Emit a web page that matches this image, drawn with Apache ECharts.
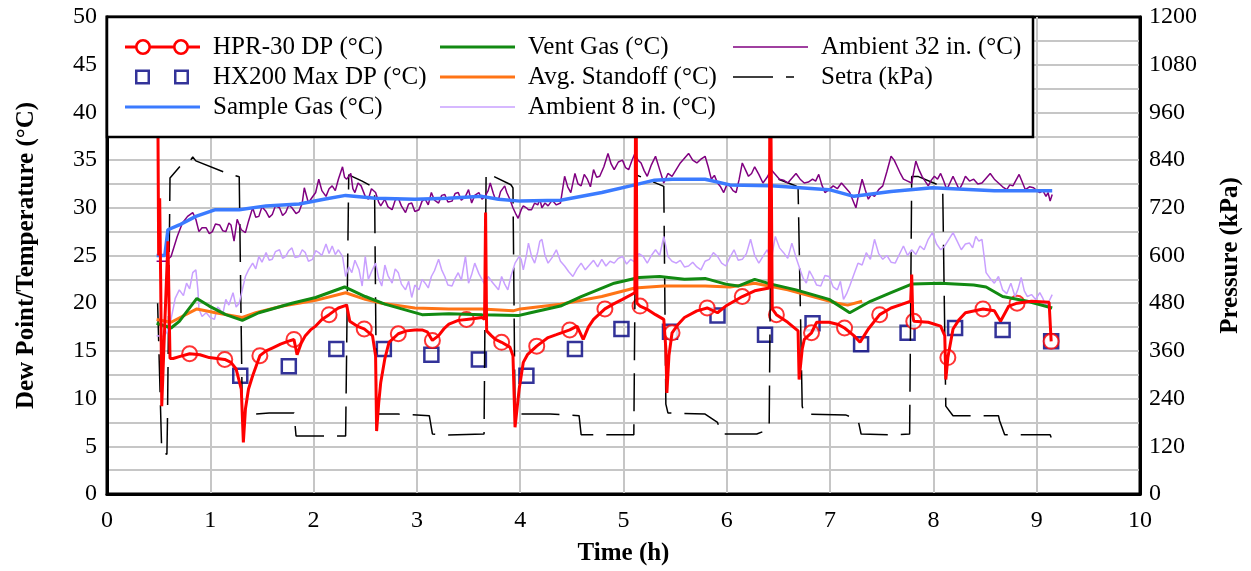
<!DOCTYPE html>
<html>
<head>
<meta charset="utf-8">
<script src="https://cdn.jsdelivr.net/npm/echarts@6.0.0/dist/echarts.min.js"></script>
<style>
  html, body { margin: 0; padding: 0; background: #fff; }
  #chart { width: 1251px; height: 571px; }
</style>
</head>
<body>
<div id="chart"></div>
<script>
// dew point / temperature vs time, with Setra pressure on the right axis

// [time h, °C]
const hprLine = [
  [0.49,45],[0.50,25],[0.51,31],[0.52,22],[0.53,9.2],[0.56,18],[0.59,26.5],[0.61,14.2],[0.64,14.2],[0.70,14.4],
  [0.80,14.7],[0.90,14.6],[0.99,14.3],[1.14,14.1],[1.20,13.8],[1.25,13.1],[1.30,11.0],[1.32,5.4],[1.34,8.9],[1.37,11.0],
  [1.41,12.4],[1.48,14.5],[1.54,15.0],[1.60,15.3],[1.68,15.7],[1.75,16.0],[1.81,16.2],[1.84,14.6],[1.88,15.8],[1.92,16.6],
  [1.97,17.2],[2.02,17.6],[2.08,18.3],[2.15,18.8],[2.20,19.2],[2.24,19.5],[2.32,19.8],[2.35,18.1],[2.42,17.6],[2.49,17.3],
  [2.57,16.6],[2.60,14.5],[2.61,6.6],[2.63,9.5],[2.65,11.7],[2.69,14.2],[2.73,15.9],[2.82,16.8],[2.90,17.1],[2.98,17.2],
  [3.05,17.2],[3.10,17.0],[3.15,16.1],[3.21,16.6],[3.26,17.3],[3.31,17.8],[3.40,18.2],[3.48,18.3],[3.56,18.4],[3.63,18.5],
  [3.655,18.3],[3.665,29.5],[3.675,17.1],[3.72,16.6],[3.76,16.2],[3.82,15.9],[3.90,15.4],[3.93,14.5],[3.95,7.0],[3.97,9.0],
  [3.99,11.0],[4.03,13.8],[4.07,14.6],[4.16,15.5],[4.27,16.4],[4.35,16.7],[4.48,17.2],[4.55,17.6],[4.61,16.2],[4.66,17.5],
  [4.71,18.3],[4.82,19.4],[4.90,19.9],[4.99,20.4],[5.11,21.1],[5.12,50],[5.125,50],[5.13,20.0],[5.16,19.7],[5.24,19.3],
  [5.31,18.8],[5.39,18.3],[5.41,15.2],[5.42,10.6],[5.44,14.5],[5.47,16.9],[5.53,17.8],[5.59,18.5],[5.71,19.2],[5.81,19.5],
  [5.91,19.0],[5.99,19.7],[6.07,20.2],[6.15,20.7],[6.27,21.3],[6.41,21.6],[6.42,50],[6.43,50],[6.44,19.4],[6.48,18.8],
  [6.59,18.0],[6.69,17.1],[6.70,12.0],[6.73,15.2],[6.75,16.2],[6.82,16.9],[6.87,18.0],[6.99,18.0],[7.07,17.8],[7.14,17.4],
  [7.23,16.6],[7.29,15.9],[7.33,16.6],[7.37,17.3],[7.48,18.8],[7.59,19.5],[7.70,19.9],[7.78,20.2],[7.79,23.0],[7.80,18.7],
  [7.81,18.1],[7.95,18.0],[8.07,17.6],[8.11,16.6],[8.12,12.0],[8.14,14.3],[8.19,17.3],[8.25,18.3],[8.31,19.0],[8.48,19.4],
  [8.59,19.2],[8.65,18.1],[8.73,19.7],[8.81,20.0],[8.95,20.2],[9.12,20.1],[9.14,16.0]
];
const hprMarks = [
  [0.80,14.7],[1.14,14.1],[1.48,14.5],[1.81,16.2],[2.15,18.8],[2.49,17.3],[2.82,16.8],[3.15,16.1],[3.48,18.3],
  [3.82,15.9],[4.16,15.5],[4.48,17.2],[4.82,19.4],[5.16,19.7],[5.47,16.9],[5.81,19.5],[6.15,20.7],[6.48,18.8],
  [6.82,16.9],[7.14,17.4],[7.48,18.8],[7.81,18.1],[8.14,14.3],[8.48,19.4],[8.81,20.0],[9.14,16.0]
];
const hx200 = [
  [1.29,12.4],[1.76,13.4],[2.22,15.2],[2.68,15.2],[3.14,14.6],[3.60,14.1],[4.06,12.4],[4.53,15.2],[4.98,17.3],
  [5.45,17.0],[5.91,18.7],[6.37,16.7],[6.83,17.9],[7.30,15.7],[7.75,16.9],[8.21,17.4],[8.67,17.2],[9.14,16.0]
];
const sampleGas = [
  [0.48,25.0],[0.56,25.0],[0.59,27.7],[0.70,28.2],[0.86,29.1],[1.05,29.8],[1.28,29.8],[1.54,30.2],[1.86,30.4],[2.10,30.9],
  [2.31,31.3],[2.60,31.0],[2.98,30.9],[3.30,31.0],[3.63,31.2],[3.79,30.9],[4.00,30.7],[4.39,30.8],[4.79,31.6],[5.11,32.4],
  [5.30,32.9],[5.47,33.0],[5.79,33.0],[6.03,32.4],[6.43,32.3],[6.99,31.9],[7.23,31.2],[7.59,31.7],[7.99,32.1],[8.59,31.8],
  [9.15,31.8]
];
const ventGas = [
  [0.48,17.9],[0.62,17.4],[0.70,18.1],[0.87,20.5],[0.99,19.7],[1.15,18.8],[1.31,18.2],[1.47,19.0],[1.79,20.0],[2.02,20.6],
  [2.30,21.7],[2.50,20.7],[2.69,19.9],[3.05,18.8],[3.31,18.9],[3.63,18.8],[3.98,18.7],[4.10,19.0],[4.39,19.7],[4.59,20.7],
  [4.91,22.1],[5.15,22.7],[5.35,22.8],[5.59,22.5],[5.79,22.6],[5.99,22.0],[6.11,21.8],[6.27,22.5],[6.43,22.0],[6.67,21.4],
  [6.99,20.4],[7.19,19.0],[7.39,20.2],[7.59,21.1],[7.79,22.0],[8.07,22.1],[8.39,21.9],[8.51,21.7],[8.67,20.7],[8.91,20.2],
  [9.15,19.5]
];
const avgStandoff = [
  [0.48,18.3],[0.62,18.0],[0.87,19.4],[1.05,19.0],[1.31,18.5],[1.44,19.0],[1.70,19.7],[2.02,20.3],[2.31,21.1],[2.50,20.4],
  [2.66,20.0],[2.98,19.5],[3.31,19.4],[3.63,19.4],[3.93,19.2],[4.00,19.4],[4.39,19.9],[4.79,20.7],[5.11,21.6],[5.39,21.8],
  [5.79,21.8],[6.03,21.7],[6.27,22.1],[6.59,21.4],[6.83,20.7],[7.07,20.0],[7.17,19.8],[7.31,20.2]
];
const ambient8 = [
  [0.48,16.6],[0.55,16.5],[0.58,17.0],[0.62,18.3],[0.66,20.5],[0.70,21.4],[0.74,20.8],[0.77,22.1],[0.80,21.5],[0.83,23.2],
  [0.86,23.5],[0.88,21.4],[0.89,19.4],[0.92,18.6],[0.96,19.0],[1.00,18.5],[1.04,18.3],[1.07,19.6],[1.09,19.4],[1.12,18.8],
  [1.15,20.4],[1.18,19.8],[1.22,21.1],[1.25,19.6],[1.28,20.0],[1.31,21.4],[1.34,22.8],[1.37,23.5],[1.41,24.2],[1.44,23.6],
  [1.47,24.9],[1.50,24.3],[1.54,25.3],[1.57,24.5],[1.60,24.6],[1.63,25.4],[1.67,25.6],[1.70,24.7],[1.73,24.9],[1.76,25.5],
  [1.79,25.8],[1.82,24.8],[1.86,24.9],[1.89,25.6],[1.92,25.3],[1.95,24.4],[1.99,24.6],[2.02,25.5],[2.05,25.3],[2.08,25.0],
  [2.12,26.2],[2.15,25.2],[2.18,26.0],[2.21,25.1],[2.24,25.6],[2.28,24.9],[2.31,22.8],[2.34,23.8],[2.37,23.2],[2.40,24.5],
  [2.44,23.5],[2.47,21.8],[2.50,24.9],[2.53,22.5],[2.56,23.3],[2.60,24.2],[2.63,22.6],[2.66,21.8],[2.69,24.0],[2.72,22.9],
  [2.76,22.1],[2.79,23.6],[2.82,23.2],[2.85,22.0],[2.89,21.4],[2.92,22.3],[2.95,20.6],[2.98,21.9],[3.02,21.4],[3.05,22.5],
  [3.08,22.1],[3.11,21.6],[3.14,22.8],[3.17,23.4],[3.21,24.6],[3.24,23.5],[3.27,22.8],[3.30,21.9],[3.34,21.8],[3.37,22.6],
  [3.40,23.2],[3.43,22.4],[3.47,24.9],[3.50,22.1],[3.53,23.0],[3.56,24.2],[3.60,23.1],[3.63,22.5],[3.66,21.9],[3.69,22.8],
  [3.73,22.2],[3.76,21.8],[3.79,21.4],[3.82,22.8],[3.85,22.0],[3.88,21.4],[3.91,22.8],[3.95,24.2],[3.99,24.9],[4.01,24.6],
  [4.03,23.5],[4.06,25.0],[4.08,26.3],[4.11,24.9],[4.14,24.2],[4.17,25.4],[4.19,26.5],[4.21,26.7],[4.24,25.0],[4.27,24.2],
  [4.31,24.8],[4.35,25.6],[4.39,24.4],[4.43,23.9],[4.47,23.3],[4.51,22.8],[4.55,23.6],[4.59,24.2],[4.63,23.5],[4.67,24.0],
  [4.71,24.5],[4.75,23.8],[4.79,24.6],[4.83,23.9],[4.87,24.4],[4.91,24.2],[4.95,24.7],[4.99,24.9],[5.03,24.1],[5.07,24.6],
  [5.11,24.3],[5.15,25.2],[5.19,24.9],[5.23,24.2],[5.27,25.0],[5.31,25.6],[5.35,25.0],[5.39,27.0],[5.43,24.9],[5.47,24.4],
  [5.51,24.2],[5.55,24.5],[5.59,23.8],[5.63,23.9],[5.67,24.3],[5.71,23.8],[5.75,23.5],[5.79,24.4],[5.83,24.6],[5.87,25.3],
  [5.91,24.9],[5.95,24.2],[5.99,23.9],[6.03,24.8],[6.07,25.6],[6.11,24.5],[6.15,24.6],[6.19,25.2],[6.23,26.7],[6.27,25.0],
  [6.31,24.2],[6.35,24.9],[6.39,25.6],[6.43,24.6],[6.47,27.0],[6.51,25.8],[6.55,25.3],[6.59,24.7],[6.63,26.3],[6.67,24.8],
  [6.71,23.5],[6.74,22.6],[6.77,22.1],[6.80,23.4],[6.83,22.8],[6.87,21.9],[6.91,21.8],[6.95,22.9],[6.99,22.8],[7.03,21.7],
  [7.07,21.4],[7.10,22.3],[7.13,20.4],[7.16,21.0],[7.19,21.8],[7.23,23.0],[7.27,24.2],[7.31,24.0],[7.35,25.3],[7.39,24.6],
  [7.43,26.7],[7.47,25.2],[7.51,24.6],[7.55,25.0],[7.59,24.3],[7.63,24.2],[7.67,25.1],[7.71,26.0],[7.75,25.0],[7.79,25.6],
  [7.83,25.1],[7.87,26.0],[7.91,25.6],[7.95,26.7],[7.99,27.4],[8.03,26.2],[8.07,25.6],[8.11,26.0],[8.15,26.7],[8.19,27.4],
  [8.23,26.5],[8.27,25.6],[8.31,26.2],[8.35,26.3],[8.38,25.8],[8.41,27.0],[8.44,26.5],[8.47,26.7],[8.49,25.0],[8.51,23.2],
  [8.55,22.6],[8.59,22.1],[8.63,22.8],[8.67,21.4],[8.71,21.0],[8.75,22.1],[8.79,20.7],[8.82,21.5],[8.85,22.7],[8.88,21.3],
  [8.91,20.7],[8.95,20.9],[8.99,20.4],[9.03,21.1],[9.06,20.5],[9.09,19.7],[9.12,20.2],[9.15,20.9]
];
const ambient32 = [
  [0.48,24.4],[0.57,24.4],[0.62,24.9],[0.68,27.0],[0.73,28.4],[0.78,29.1],[0.83,29.5],[0.86,28.8],[0.89,27.5],[0.92,27.9],
  [0.96,27.9],[0.99,27.3],[1.02,27.5],[1.05,28.3],[1.09,28.2],[1.12,27.6],[1.15,27.5],[1.18,28.4],[1.20,28.2],[1.23,26.5],
  [1.26,28.8],[1.30,27.7],[1.34,27.4],[1.37,28.6],[1.41,30.0],[1.44,29.0],[1.47,29.1],[1.50,30.1],[1.54,29.6],[1.57,29.0],
  [1.60,29.3],[1.63,30.2],[1.67,30.0],[1.70,29.2],[1.73,29.5],[1.76,30.3],[1.79,30.0],[1.83,29.4],[1.86,29.6],[1.89,30.5],
  [1.91,32.1],[1.95,30.5],[1.98,31.0],[2.02,31.6],[2.05,33.0],[2.08,31.8],[2.12,31.2],[2.15,32.0],[2.18,32.3],[2.21,31.8],
  [2.24,33.0],[2.28,34.3],[2.30,33.2],[2.32,33.0],[2.36,33.6],[2.38,32.0],[2.40,31.6],[2.43,32.6],[2.46,32.3],[2.50,31.2],
  [2.53,30.9],[2.56,32.0],[2.60,31.6],[2.63,30.6],[2.65,30.2],[2.69,30.9],[2.72,30.1],[2.76,29.8],[2.79,30.8],[2.82,31.0],
  [2.85,30.2],[2.89,29.5],[2.92,30.4],[2.95,30.5],[2.98,29.6],[3.02,29.8],[3.05,30.7],[3.08,30.9],[3.11,30.3],[3.14,31.6],
  [3.17,30.8],[3.21,30.5],[3.24,31.3],[3.27,31.4],[3.30,30.6],[3.34,30.7],[3.37,31.5],[3.40,31.6],[3.43,30.8],[3.47,31.2],
  [3.50,31.9],[3.53,30.5],[3.56,31.3],[3.60,31.6],[3.63,30.9],[3.66,31.2],[3.69,31.8],[3.71,32.6],[3.74,31.5],[3.76,30.9],
  [3.79,30.9],[3.81,31.7],[3.85,32.3],[3.87,31.6],[3.90,30.9],[3.93,30.0],[3.96,29.3],[3.98,28.9],[4.01,29.8],[4.03,30.2],
  [4.06,30.0],[4.08,29.8],[4.11,29.8],[4.14,30.5],[4.17,30.3],[4.19,30.9],[4.21,30.0],[4.24,30.5],[4.27,30.2],[4.31,30.8],
  [4.35,30.3],[4.39,30.5],[4.43,33.3],[4.46,32.2],[4.49,31.6],[4.53,33.6],[4.56,32.5],[4.59,32.3],[4.62,33.5],[4.65,33.0],
  [4.68,32.2],[4.71,34.0],[4.74,33.2],[4.77,33.3],[4.81,34.3],[4.85,35.7],[4.88,34.6],[4.91,34.0],[4.95,34.8],[4.99,35.0],
  [5.02,34.2],[5.05,34.0],[5.08,34.9],[5.11,35.7],[5.14,35.0],[5.17,34.7],[5.20,33.9],[5.23,33.3],[5.27,34.5],[5.31,35.4],
  [5.35,34.0],[5.39,32.6],[5.43,33.6],[5.47,33.3],[5.51,34.0],[5.55,34.7],[5.59,35.2],[5.63,35.7],[5.67,35.0],[5.71,34.7],
  [5.75,35.1],[5.79,35.4],[5.82,34.3],[5.85,33.0],[5.88,33.4],[5.91,32.6],[5.94,32.2],[5.97,31.6],[6.00,32.4],[6.03,32.3],
  [6.06,31.8],[6.09,31.6],[6.12,33.0],[6.15,34.7],[6.18,34.0],[6.21,33.3],[6.24,33.6],[6.27,34.3],[6.31,33.5],[6.35,32.6],
  [6.39,33.2],[6.43,34.0],[6.47,33.5],[6.51,33.0],[6.55,32.9],[6.59,32.6],[6.63,33.1],[6.67,33.6],[6.71,33.0],[6.75,32.6],
  [6.79,32.7],[6.83,33.0],[6.86,32.8],[6.89,33.5],[6.92,32.4],[6.95,31.6],[6.99,31.9],[7.03,32.3],[7.07,32.0],[7.11,32.6],
  [7.15,32.1],[7.19,31.6],[7.22,30.8],[7.25,30.0],[7.28,31.6],[7.31,33.0],[7.34,31.9],[7.37,30.9],[7.40,31.4],[7.43,31.2],
  [7.47,31.9],[7.51,32.3],[7.55,33.8],[7.59,35.4],[7.62,35.0],[7.65,34.3],[7.68,33.6],[7.71,33.0],[7.75,32.8],[7.79,32.6],
  [7.81,33.8],[7.83,34.9],[7.86,34.0],[7.89,33.3],[7.92,32.8],[7.95,32.3],[7.98,32.9],[8.01,33.3],[8.04,33.0],[8.07,33.6],
  [8.10,32.8],[8.13,31.9],[8.16,32.6],[8.19,33.3],[8.22,32.6],[8.25,31.9],[8.28,32.5],[8.31,33.3],[8.35,32.8],[8.39,33.0],
  [8.43,32.5],[8.47,32.6],[8.51,33.1],[8.55,33.6],[8.59,33.0],[8.63,32.6],[8.67,32.2],[8.71,31.9],[8.74,32.4],[8.77,32.3],
  [8.80,32.9],[8.83,33.5],[8.86,32.7],[8.89,31.9],[8.93,32.2],[8.97,32.1],[9.00,31.8],[9.03,31.6],[9.06,31.8],[9.09,31.2],
  [9.11,31.6],[9.13,30.7],[9.15,31.4]
];
// [time h, kPa]
const setra = [
  [0.49,480],[0.53,105],[0.58,100],[0.585,180],[0.61,795],[0.72,828],[0.81,840],[0.83,848],[0.86,838],[1.17,806],
  [1.28,798],[1.31,201],[1.42,201],[1.57,204],[1.81,204],[1.83,146],[1.99,146],[2.31,146],[2.34,803],[2.47,787],
  [2.59,770],[2.61,201],[2.82,201],[3.12,197],[3.15,151],[3.27,148],[3.65,151],[3.67,808],[3.91,778],[3.93,770],
  [3.95,201],[4.29,201],[4.45,199],[4.57,197],[4.59,149],[4.75,149],[5.10,149],[5.12,803],[5.39,774],[5.41,226],
  [5.43,204],[5.79,201],[5.91,180],[5.95,151],[6.29,151],[6.41,163],[6.43,799],[6.67,775],[6.69,770],[6.73,221],
  [6.75,201],[7.15,199],[7.27,187],[7.30,151],[7.61,149],[7.77,151],[7.79,799],[7.85,799],[8.07,775],[8.09,770],
  [8.12,221],[8.19,197],[8.63,197],[8.64,185],[8.69,149],[9.13,149],[9.14,142]
];

const FONT = '"Liberation Serif", "Times New Roman", serif';
const GRID_CLR = '#c6c6c6';

// legend icons (Excel style): line with two rings, two hollow squares, plain lines, long dash
const HPR_ICON = 'path://M0,6.6H10.2V9.4H0Z' +
  'M10,8A8,8 0 1,1 26,8A8,8 0 1,1 10,8ZM12.6,8A5.4,5.4 0 1,0 23.4,8A5.4,5.4 0 1,0 12.6,8Z' +
  'M25.8,6.6H48.2V9.4H25.8Z' +
  'M48,8A8,8 0 1,1 64,8A8,8 0 1,1 48,8ZM50.6,8A5.4,5.4 0 1,0 61.4,8A5.4,5.4 0 1,0 50.6,8Z' +
  'M63.8,6.6H75V9.4H63.8Z';
const HX_ICON = 'path://M0,8L0,8M75,8L75,8' +
  'M10,0.5H25V15.5H10ZM12.5,3V13H22.5V3Z' +
  'M49,0.5H64V15.5H49ZM51.5,3V13H61.5V3Z';
const THICK_ICON = 'path://M0,0H75V3H0Z';
const THIN_ICON = 'path://M0,0H75V1.5H0Z';
const DASH_ICON = 'path://M0,0H40V1.5H0ZM53,0H61V1.5H53ZM75,0L75,1.5';

const legendItem = (name, icon, color) => ({ name, icon, itemStyle: { color, borderWidth: 0 } });

const legendBase = {
  orient: 'vertical', top: 34, padding: 0,
  itemWidth: 75, itemHeight: 16, itemGap: 4,
  selectedMode: false, z: 20,
  textStyle: { fontFamily: FONT, fontSize: 25, color: '#000', lineHeight: 26, padding: [0, 0, 0, 8] }
};

const chart = echarts.init(document.getElementById('chart'));
chart.setOption({
  animation: false,
  backgroundColor: '#fff',
  textStyle: { fontFamily: FONT },
  grid: { left: 107, right: 108, top: 17, bottom: 76, show: true, borderColor: '#000', borderWidth: 3 },
  graphic: [{
    type: 'rect', z: 10,
    shape: { x: 107, y: 17, width: 926, height: 120 },
    style: { fill: '#fff', stroke: '#000', lineWidth: 2.5 }
  }],
  legend: [
    { ...legendBase, left: 125, data: [
      legendItem('HPR-30 DP (°C)', HPR_ICON, '#ff0000'),
      legendItem('HX200 Max DP (°C)', HX_ICON, '#000080'),
      legendItem('Sample Gas (°C)', THICK_ICON, '#3b7bff')
    ] },
    { ...legendBase, left: 440, data: [
      legendItem('Vent Gas (°C)', THICK_ICON, '#128a12'),
      legendItem('Avg. Standoff (°C)', THICK_ICON, '#ff7416'),
      legendItem('Ambient 8 in. (°C)', THIN_ICON, '#c9a0ff')
    ] },
    { ...legendBase, left: 733, data: [
      legendItem('Ambient 32 in. (°C)', THIN_ICON, '#800080'),
      legendItem('Setra (kPa)', DASH_ICON, '#000000')
    ] }
  ],
  xAxis: {
    type: 'value', min: 0, max: 10, interval: 1,
    name: 'Time (h)', nameLocation: 'middle', nameGap: 47,
    nameTextStyle: { fontFamily: FONT, fontSize: 25, fontWeight: 'bold', color: '#000' },
    axisLine: { show: true, lineStyle: { color: '#000', width: 3 } },
    axisTick: { show: false },
    axisLabel: { fontFamily: FONT, fontSize: 24, color: '#000', margin: 15 },
    splitLine: { show: true, showMinLine: false, showMaxLine: false, lineStyle: { color: GRID_CLR, width: 2 } }
  },
  yAxis: [{
    type: 'value', min: 0, max: 50, interval: 5, position: 'left',
    name: 'Dew Point/Temperature (°C)', nameLocation: 'middle', nameGap: 68, nameRotate: 90,
    nameTextStyle: { fontFamily: FONT, fontSize: 25, fontWeight: 'bold', color: '#000' },
    axisLine: { show: true, lineStyle: { color: '#000', width: 3 } },
    axisTick: { show: false },
    axisLabel: { fontFamily: FONT, fontSize: 24, color: '#000', margin: 10 },
    splitLine: { show: true, showMinLine: false, showMaxLine: false, lineStyle: { color: GRID_CLR, width: 2 } },
    minorTick: { show: false, splitNumber: 2 },
    minorSplitLine: { show: true, lineStyle: { color: GRID_CLR, width: 2 } }
  }, {
    type: 'value', min: 0, max: 1200, interval: 120, position: 'right',
    name: 'Pressure (kPa)', nameLocation: 'middle', nameGap: 78, nameRotate: 90,
    nameTextStyle: { fontFamily: FONT, fontSize: 25, fontWeight: 'bold', color: '#000' },
    axisLine: { show: true, lineStyle: { color: '#000', width: 3 } },
    axisTick: { show: false },
    axisLabel: { fontFamily: FONT, fontSize: 24, color: '#000', margin: 9, formatter: v => String(v) },
    splitLine: { show: false }
  }],
  series: [
    { name: 'Setra (kPa)', type: 'line', yAxisIndex: 1, data: setra, symbol: 'none',
      lineStyle: { color: '#000', width: 1.5, type: [38, 13] }, itemStyle: { color: '#000' } },
    { name: 'Ambient 8 in. (°C)', type: 'line', data: ambient8, symbol: 'none',
      lineStyle: { color: '#c9a0ff', width: 1.5 }, itemStyle: { color: '#c9a0ff' } },
    { name: 'Ambient 32 in. (°C)', type: 'line', data: ambient32, symbol: 'none',
      lineStyle: { color: '#800080', width: 1.5 }, itemStyle: { color: '#800080' } },
    { name: 'Avg. Standoff (°C)', type: 'line', data: avgStandoff, symbol: 'none',
      lineStyle: { color: '#ff7416', width: 3 }, itemStyle: { color: '#ff7416' } },
    { name: 'Vent Gas (°C)', type: 'line', data: ventGas, symbol: 'none',
      lineStyle: { color: '#128a12', width: 3 }, itemStyle: { color: '#128a12' } },
    { name: 'Sample Gas (°C)', type: 'line', data: sampleGas, symbol: 'none',
      lineStyle: { color: '#3b7bff', width: 3.5 }, itemStyle: { color: '#3b7bff' } },
    { name: 'HX200 Max DP (°C)', type: 'scatter', data: hx200, symbol: 'rect', symbolSize: 14,
      itemStyle: { color: 'rgba(0,0,0,0)', borderColor: '#000080', borderWidth: 2.5 } },
    { name: 'HPR-30 DP (°C)', type: 'line', data: hprLine, symbol: 'none',
      lineStyle: { color: '#ff0000', width: 3 }, itemStyle: { color: '#ff0000' } },
    { name: 'HPR-30 DP (°C)', type: 'scatter', data: hprMarks, symbol: 'emptyCircle', symbolSize: 15,
      itemStyle: { color: '#ff0000', borderColor: '#ff0000', borderWidth: 2.5 } }
  ]
});
</script>
</body>
</html>
